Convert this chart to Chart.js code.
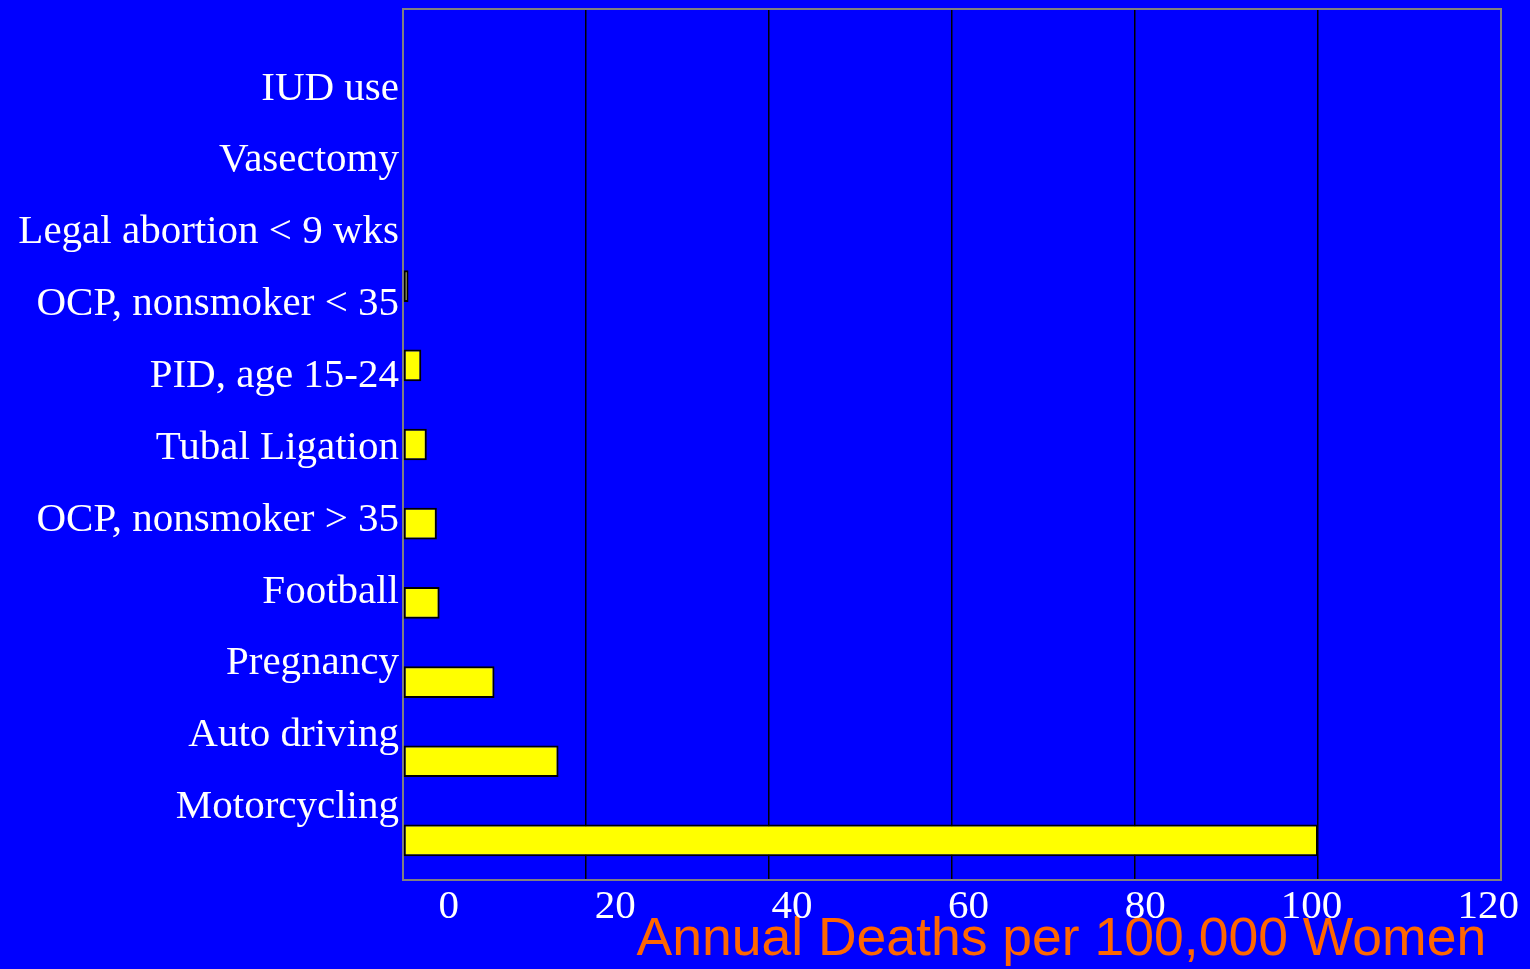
<!DOCTYPE html>
<html>
<head>
<meta charset="utf-8">
<script src="https://cdn.jsdelivr.net/npm/chart.js@4"></script>
<style>
  html, body { margin: 0; padding: 0; background: #0000ff; }
  #wrap { width: 1530px; height: 969px; }
</style>
</head>
<body>
<div id="wrap"><canvas id="riskChart"></canvas></div>
<script>
// categories top to bottom
const categories = [
  "IUD use",
  "Vasectomy",
  "Legal abortion < 9 wks",
  "OCP, nonsmoker < 35",
  "PID, age 15-24",
  "Tubal Ligation",
  "OCP, nonsmoker > 35",
  "Football",
  "Pregnancy",
  "Auto driving",
  "Motorcycling"
];
// annual deaths per 100,000 women
const deaths = [0, 0, 0, 0.6, 2.0, 2.6, 3.7, 4.0, 10, 17, 100];
const xTicks = [0, 20, 40, 60, 80, 100, 120];

const serif = "'Liberation Serif', 'Times New Roman', serif";

// axes that should not grab any room of their own
const noRoom = (s) => {
  if (s.isHorizontal()) s.height = 0; else s.width = 0;
  s.paddingTop = s.paddingBottom = s.paddingLeft = s.paddingRight = 0;
};

new Chart(document.getElementById("riskChart"), {
  type: "bar",
  data: {
    labels: categories,
    datasets: [{
      data: deaths,
      backgroundColor: "#ffff00",
      borderColor: "#000000",
      borderWidth: 2,
      borderSkipped: false,
      barPercentage: 0.4,
      categoryPercentage: 1.0
    }]
  },
  options: {
    indexAxis: "y",
    responsive: true,
    maintainAspectRatio: false,
    animation: false,
    layout: { padding: { top: 9, right: 29, bottom: 0, left: 0 } },
    plugins: { legend: { display: false }, tooltip: { enabled: false } },
    scales: {
      x: {
        type: "linear",
        min: xTicks[0],
        max: xTicks[xTicks.length - 1],
        position: "bottom",
        ticks: { display: false, stepSize: 20 },
        grid: { color: "#000000", lineWidth: 1.5, drawTicks: false },
        border: { color: "#808080", width: 2 },
        afterFit: noRoom
      },
      // the slide's tick labels are right-aligned and a bit off the grid
      x2: {
        type: "linear",
        position: "bottom",
        min: -6.35,
        max: 117.96,
        bounds: "data",
        offset: false,
        grid: { display: false, drawTicks: false },
        border: { display: false },
        afterBuildTicks: (s) => { s.ticks = xTicks.map((v) => ({ value: v })); },
        ticks: {
          autoSkip: false,
          maxRotation: 0,
          align: "end",
          padding: 3,
          color: "#ffffff",
          font: { family: serif, size: 41 },
          callback: (v) => String(v)
        },
        title: {
          display: true,
          text: "Annual Deaths per 100,000 Women ",
          align: "end",
          color: "#ff6600",
          font: { family: "'Liberation Sans', Arial, sans-serif", size: 53.5, lineHeight: 1 },
          padding: { top: 0, bottom: 2 }
        },
        afterFit: (s) => {
          s.height = 89;
          s.paddingLeft = s.paddingRight = 0;
        }
      },
      xTop: {
        type: "linear",
        position: "top",
        ticks: { display: false },
        grid: { display: false, drawTicks: false },
        border: { color: "#808080", width: 2 },
        afterFit: noRoom
      },
      y: {
        type: "category",
        position: "left",
        ticks: { display: false },
        grid: { display: false, drawTicks: false },
        border: { color: "#808080", width: 2 },
        afterFit: noRoom
      },
      // category labels sit on a slightly tighter pitch than the bars
      y2: {
        type: "linear",
        position: "left",
        reverse: true,
        min: -1.11,
        max: 11.01,
        bounds: "data",
        offset: false,
        grid: { display: false, drawTicks: false },
        border: { display: false },
        afterBuildTicks: (s) => { s.ticks = categories.map((c, i) => ({ value: i })); },
        ticks: {
          autoSkip: false,
          padding: 4,
          color: "#ffffff",
          font: { family: serif, size: 41 },
          callback: (v) => categories[v]
        },
        afterFit: (s) => {
          s.width = 403;
          s.paddingTop = s.paddingBottom = 0;
        }
      },
      yRight: {
        type: "linear",
        position: "right",
        offset: false,
        ticks: { display: false },
        grid: { display: false, drawTicks: false },
        border: { color: "#808080", width: 2 },
        afterFit: noRoom
      }
    }
  }
});
</script>
</body>
</html>
